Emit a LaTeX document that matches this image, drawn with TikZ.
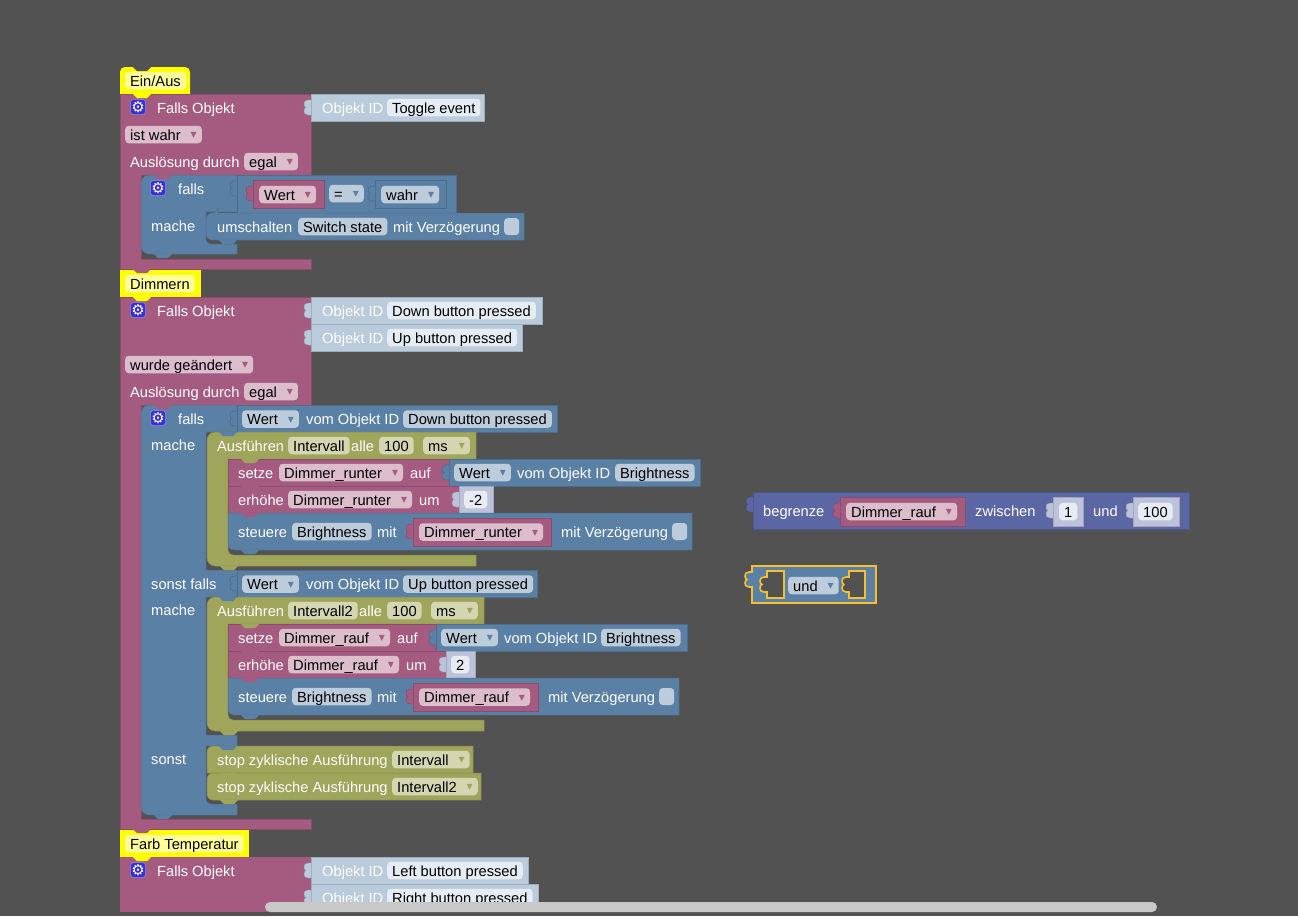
\documentclass[tikz,border=0pt]{standalone}
\usepackage{fontspec}
\usepackage{tikz}
\setmainfont{Liberation Sans}
\newfontfamily\symfont{DejaVu Sans}
\definecolor{bgcol}{HTML}{525252}
\definecolor{rosecol}{HTML}{A55B80}
\definecolor{bluecol}{HTML}{5B80A5}
\definecolor{olivecol}{HTML}{9FA55B}
\definecolor{purplecol}{HTML}{5B67A5}
\definecolor{idcol}{HTML}{BACBDC}
\definecolor{numcol}{HTML}{BDC2DB}
\definecolor{rosepale}{HTML}{DBBDCC}
\definecolor{bluepale}{HTML}{BDCCDB}
\definecolor{olivepale}{HTML}{D3D6B0}
\definecolor{idpale}{HTML}{E6ECF3}
\definecolor{numpale}{HTML}{E9EBF4}
\definecolor{yellowcol}{HTML}{FFFF00}
\definecolor{yellowpale}{HTML}{FFFF99}
\definecolor{hilite}{HTML}{F5C02F}
\definecolor{gearcol}{HTML}{3A2FD0}
\definecolor{barcol}{HTML}{C8C8C8}
\newcommand{\ddmark}[1]{\hspace{10pt}\raisebox{1.5pt}{\symfont\fontsize{12}{12}\selectfont\textcolor{#1}{▾}}\hspace{7.5pt}}
\newcommand{\tabshape}[3]{\path[fill=#3,draw=#3!80!black,line width=.4pt] (#1,#2) -- (#1-3,#2) .. controls (#1-6,#2) and (#1-7,#2+2) .. (#1-7,#2+4) .. controls (#1-7,#2+6) and (#1-6,#2+7) .. (#1-5,#2+7.5) .. controls (#1-6,#2+8) and (#1-7,#2+9) .. (#1-7,#2+11) .. controls (#1-7,#2+13) and (#1-6,#2+15) .. (#1-3,#2+15) -- (#1,#2+15);}
\newcommand{\bumpshape}[3]{\fill[#3] (#1+13,#2) -- (#1+17,#2+4) -- (#1+27,#2+4) -- (#1+31,#2) -- cycle;}
\tikzset{
  txtbase/.style={anchor=west,font=\fontsize{14.67}{16}\selectfont,text height=13pt,text depth=2pt},
  lbl/.style={txtbase,inner sep=0pt,text=white},
  fld/.style={txtbase,rounded corners=3.5pt,inner xsep=5pt,inner ysep=1.25pt,text=black},
  rosefld/.style={fld,fill=rosepale},
  bluefld/.style={fld,fill=bluepale},
  olivefld/.style={fld,fill=olivepale},
  idfld/.style={fld,fill=idpale},
  numfld/.style={fld,fill=numpale},
  yellowfld/.style={fld,fill=yellowpale},
  chk/.style={anchor=west,fill=bluepale,rounded corners=3.5pt,minimum width=15pt,minimum height=17pt,inner sep=0pt},
  gearbtn/.style={fill=gearcol,draw=gearcol!55!white,line width=.5pt,rounded corners=3pt,minimum size=15pt,inner sep=0pt,text=white,font=\symfont\fontsize{15}{15}\selectfont},
  blk/.style={fill=#1,draw=#1!85!black,line width=.5pt},
}
\begin{document}
\begin{tikzpicture}[x=1pt,y=-1pt]
\useasboundingbox (0,0) rectangle (1298,916);
\fill[bgcol] (0,0) rectangle (1298,916);

\fill[yellowcol] (120,94) [rounded corners=5pt] -- (120,67) -- (190,67) [sharp corners] -- (190,94) -- cycle;
\bumpshape{120}{67}{bgcol}
\fill[yellowcol] (120,270) rectangle (201,297);
\fill[yellowcol] (120,830) rectangle (249,857);

\path[blk=rosecol] (120,94) -- (311,94) -- (311,175) -- (141,175) -- (141,259) -- (311,259) -- (311,269) -- (120,269) -- cycle;
\path[blk=rosecol] (120,297) -- (311,297) -- (311,405) -- (141,405) -- (141,819) -- (311,819) -- (311,829) -- (120,829) -- cycle;
\fill[rosecol] (120,857) -- (311,857) -- (311,912) -- (120,912) -- cycle;
\bumpshape{120}{94}{yellowcol}
\bumpshape{120}{297}{yellowcol}
\bumpshape{120}{857}{yellowcol}
\bumpshape{120}{269}{rosecol}
\bumpshape{120}{829}{rosecol}

\path[blk=idcol] (311,94) rectangle (484,121);
\tabshape{311}{100}{idcol}
\path[blk=idcol] (311,297) rectangle (542,324);
\tabshape{311}{303}{idcol}
\path[blk=idcol] (311,324) rectangle (522,351);
\tabshape{311}{330}{idcol}
\path[blk=idcol] (311,857) rectangle (528,884);
\tabshape{311}{863}{idcol}
\path[blk=idcol] (311,884) rectangle (538,902);
\tabshape{311}{890}{idcol}

\path[blk=bluecol] (237,175) -- (237,212) -- (206,212) [rounded corners=5pt] -- (206,244) -- (225,244) [sharp corners] -- (237,244) -- (237,254) [rounded corners=8pt] -- (141,254) -- (141,175) -- (160,175) [sharp corners] -- cycle;
\path[blk=bluecol] (237,175) rectangle (456,213);
\tabshape{237}{181}{bluecol}
\path[blk=rosecol] (253,180) rectangle (324,208);
\tabshape{253}{186}{rosecol}
\path[blk=bluecol] (375,180) rectangle (446,208);
\tabshape{375}{186}{bluecol}
\path[blk=bluecol] (218,213) -- (524,213) -- (524,240) -- (218,240) [rounded corners=6pt] -- (206,240) -- (206,213) -- (218,213) [sharp corners] -- cycle;
\bumpshape{141}{175}{rosecol}
\bumpshape{206}{213}{bluecol}
\bumpshape{206}{240}{bluecol}
\bumpshape{141}{254}{bluecol}

\path[blk=bluecol] (237,405) -- (237,432) -- (206,432) -- (206,570) -- (237,570) -- (237,597) -- (206,597) -- (206,735) -- (237,735) -- (237,746) -- (206,746) [rounded corners=5pt] -- (206,804) -- (225,804) [sharp corners] -- (237,804) -- (237,815) [rounded corners=8pt] -- (141,815) -- (141,405) -- (160,405) [sharp corners] -- cycle;
\path[blk=bluecol] (237,405) rectangle (557,432);
\tabshape{237}{411}{bluecol}
\path[blk=bluecol] (237,570) rectangle (537,597);
\tabshape{237}{576}{bluecol}
\bumpshape{141}{405}{rosecol}
\bumpshape{141}{815}{bluecol}

\path[blk=olivecol] (476,432) -- (476,459) -- (228,459) [rounded corners=5pt] -- (228,555) -- (250,555) [sharp corners] -- (476,555) -- (476,566) [rounded corners=8pt] -- (207,566) -- (207,432) -- (225,432) [sharp corners] -- cycle;
\path[blk=olivecol] (484,597) -- (484,624) -- (228,624) [rounded corners=5pt] -- (228,720) -- (250,720) [sharp corners] -- (484,720) -- (484,731) [rounded corners=8pt] -- (207,731) -- (207,597) -- (225,597) [sharp corners] -- cycle;
\bumpshape{206}{432}{bluecol}
\bumpshape{206}{597}{bluecol}
\bumpshape{207}{566}{olivecol}
\bumpshape{207}{731}{olivecol}

\path[blk=rosecol] (228,459) rectangle (449,486);
\path[blk=bluecol] (449,459) rectangle (700,486);
\tabshape{449}{465}{bluecol}
\path[blk=rosecol] (228,486) rectangle (459,513);
\path[blk=numcol] (459,486) rectangle (493,513);
\tabshape{459}{492}{numcol}
\path[blk=bluecol] (228,513) -- (692,513) -- (692,550) -- (240,550) [rounded corners=6pt] -- (228,550) -- (228,513) [sharp corners] -- cycle;
\path[blk=rosecol] (413,518) rectangle (551,546);
\tabshape{413}{524}{rosecol}
\bumpshape{228}{459}{olivecol}
\bumpshape{228}{486}{rosecol}
\bumpshape{228}{513}{rosecol}
\bumpshape{228}{550}{bluecol}

\path[blk=rosecol] (228,624) rectangle (436,651);
\path[blk=bluecol] (436,624) rectangle (687,651);
\tabshape{436}{630}{bluecol}
\path[blk=rosecol] (228,651) rectangle (446,678);
\path[blk=numcol] (446,651) rectangle (475,678);
\tabshape{446}{657}{numcol}
\path[blk=bluecol] (228,678) -- (679,678) -- (679,715) -- (240,715) [rounded corners=6pt] -- (228,715) -- (228,678) [sharp corners] -- cycle;
\path[blk=rosecol] (413,683) rectangle (538,711);
\tabshape{413}{689}{rosecol}
\bumpshape{228}{624}{olivecol}
\bumpshape{228}{651}{rosecol}
\bumpshape{228}{678}{rosecol}
\bumpshape{228}{715}{bluecol}

\path[blk=olivecol] (473,746) -- (473,773) -- (207,773) [rounded corners=6pt] -- (207,746) -- (225,746) [sharp corners] -- cycle;
\path[blk=olivecol] (481,773) -- (481,800) -- (219,800) [rounded corners=6pt] -- (207,800) -- (207,773) [sharp corners] -- cycle;
\bumpshape{206}{746}{bluecol}
\bumpshape{207}{773}{olivecol}
\bumpshape{207}{800}{olivecol}

\path[blk=purplecol] (753,492) rectangle (1189,529);
\tabshape{753}{497}{purplecol}
\path[blk=rosecol] (840,497) rectangle (965,526);
\tabshape{840}{503}{rosecol}
\path[blk=numcol] (1053,497) rectangle (1083,526);
\tabshape{1053}{503}{numcol}
\path[blk=numcol] (1133,497) rectangle (1179,526);
\tabshape{1133}{503}{numcol}

\path[fill=bluecol,draw=hilite,line width=1.6pt] (752,566) -- (876,566) -- (876,603) -- (752,603) -- (752,587) -- (749,587) .. controls (746,587) and (745,585) .. (745,583) .. controls (745,581) and (746,580) .. (747,579.5) .. controls (746,579) and (745,578) .. (745,576) .. controls (745,574) and (746,572) .. (749,572) -- (752,572) -- cycle;
\path[fill=bgcol,draw=hilite,line width=1.6pt] (784,571) -- (767,571) -- (767,577) -- (764,577) .. controls (761,577) and (760,579) .. (760,581) .. controls (760,583) and (761,584) .. (762,584.5) .. controls (761,585) and (760,586) .. (760,588) .. controls (760,590) and (761,592) .. (764,592) -- (767,592) -- (767,598) -- (784,598) -- cycle;
\path[fill=bgcol,draw=hilite,line width=1.6pt] (865,571) -- (849,571) -- (849,577) -- (846,577) .. controls (843,577) and (842,579) .. (842,581) .. controls (842,583) and (843,584) .. (844,584.5) .. controls (843,585) and (842,586) .. (842,588) .. controls (842,590) and (843,592) .. (846,592) -- (849,592) -- (849,598) -- (865,598) -- cycle;

\path (125,80.5) node[yellowfld] (hatA) {Ein/Aus}
      (125,283.5) node[yellowfld] (hatB) {Dimmern}
      (125,843.5) node[yellowfld] (hatC) {Farb Temperatur}
      (138,107) node[gearbtn] (gearA) {⚙}
      (138,310) node[gearbtn] (gearB) {⚙}
      (138,870) node[gearbtn] (gearC) {⚙}
      (158,188) node[gearbtn] (gearD) {⚙}
      (158,418) node[gearbtn] (gearE) {⚙}
      (157,107.5) node[lbl] (fallsA) {Falls Objekt}
      (157,310.5) node[lbl] (fallsB) {Falls Objekt}
      (157,870.5) node[lbl] (fallsC) {Falls Objekt}
      (322,107.5) node[lbl] (idA) {Objekt ID}
      (387,107.5) node[idfld] (idAval) {Toggle event}
      (322,310.5) node[lbl] (idB) {Objekt ID}
      (387,310.5) node[idfld] (idBval) {Down button pressed}
      (322,337.5) node[lbl] (idC) {Objekt ID}
      (387,337.5) node[idfld] (idCval) {Up button pressed}
      (322,870.5) node[lbl] (idD) {Objekt ID}
      (387,870.5) node[idfld] (idDval) {Left button pressed}
      (322,897.5) node[lbl] (idE) {Objekt ID}
      (387,897.5) node[idfld] (idEval) {Right button pressed}
      (125,134.5) node[rosefld] (condA) {ist wahr\ddmark{rosecol}}
      (125,364.5) node[rosefld] (condB) {wurde geändert\ddmark{rosecol}}
      (130,161.5) node[lbl] (trigA) {Auslösung durch}
      (244,161.5) node[rosefld] (trigAval) {egal\ddmark{rosecol}}
      (130,391.5) node[lbl] (trigB) {Auslösung durch}
      (244,391.5) node[rosefld] (trigBval) {egal\ddmark{rosecol}}
      ;

\path (178,188.5) node[lbl] (ifA) {falls}
      (151,226) node[lbl] (doA) {mache}
      (259,194.5) node[rosefld] (wertA) {Wert\ddmark{rosecol}}
      (329,193.5) node[bluefld] (eqA) {=\ddmark{bluecol}}
      (381,194.5) node[bluefld] (wahrA) {wahr\ddmark{bluecol}}
      (217,227) node[lbl] (toggle) {umschalten}
      (298,226.5) node[bluefld] (toggleval) {Switch state}
      (393,227) node[lbl] (toggledly) {mit Verzögerung}
      (504,226.5) node[chk] (togglechk) {}
      ;

\path (178,418.5) node[lbl] (ifB) {falls}
      (242,419) node[bluefld] (wertB) {Wert\ddmark{bluecol}}
      (306,419) node[lbl] (vomB) {vom Objekt ID}
      (403,419) node[bluefld] (vomBval) {Down button pressed}
      (151,445) node[lbl] (doB) {mache}
      (217,445.5) node[lbl] (runA) {Ausführen}
      (288,445.5) node[olivefld] (runAname) {Intervall}
      (351,445.5) node[lbl] (runAalle) {alle}
      (379,445.5) node[olivefld] (runAval) {100}
      (423,445.5) node[olivefld] (runAunit) {ms\hspace{1pt}\ddmark{olivecol}}
      (238,472.5) node[lbl] (setA) {setze}
      (279,472.5) node[rosefld] (setAvar) {Dimmer\_runter\ddmark{rosecol}}
      (410,472.5) node[lbl] (setAauf) {auf}
      (454,472.5) node[bluefld] (wertC) {Wert\ddmark{bluecol}}
      (517,472.5) node[lbl] (vomC) {vom Objekt ID}
      (615,472.5) node[bluefld] (vomCval) {Brightness}
      (238,499.5) node[lbl] (incA) {erhöhe}
      (288,499.5) node[rosefld] (incAvar) {Dimmer\_runter\ddmark{rosecol}}
      (419,499.5) node[lbl] (incAum) {um}
      (464,499.5) node[numfld] (incAval) {-2}
      (238,531.5) node[lbl] (ctlA) {steuere}
      (292,531.5) node[bluefld] (ctlAname) {Brightness}
      (377,531.5) node[lbl] (ctlAmit) {mit}
      (419,532) node[rosefld] (ctlAvar) {Dimmer\_runter\ddmark{rosecol}}
      (561,531.5) node[lbl] (ctlAdly) {mit Verzögerung}
      (672,531.5) node[chk] (ctlAchk) {}
      ;

\path (151,583.5) node[lbl] (elifA) {sonst falls}
      (242,584) node[bluefld] (wertD) {Wert\ddmark{bluecol}}
      (306,584) node[lbl] (vomD) {vom Objekt ID}
      (403,584) node[bluefld] (vomDval) {Up button pressed}
      (151,610) node[lbl] (doC) {mache}
      (217,610.5) node[lbl] (runB) {Ausführen}
      (288,610.5) node[olivefld] (runBname) {Intervall2}
      (359,610.5) node[lbl] (runBalle) {alle}
      (387,610.5) node[olivefld] (runBval) {100}
      (431,610.5) node[olivefld] (runBunit) {ms\hspace{1pt}\ddmark{olivecol}}
      (238,637.5) node[lbl] (setB) {setze}
      (279,637.5) node[rosefld] (setBvar) {Dimmer\_rauf\ddmark{rosecol}}
      (397,637.5) node[lbl] (setBauf) {auf}
      (441,637.5) node[bluefld] (wertE) {Wert\ddmark{bluecol}}
      (504,637.5) node[lbl] (vomE) {vom Objekt ID}
      (601,637.5) node[bluefld] (vomEval) {Brightness}
      (238,664.5) node[lbl] (incB) {erhöhe}
      (288,664.5) node[rosefld] (incBvar) {Dimmer\_rauf\ddmark{rosecol}}
      (406,664.5) node[lbl] (incBum) {um}
      (451,664.5) node[numfld] (incBval) {2}
      (238,696.5) node[lbl] (ctlB) {steuere}
      (292,696.5) node[bluefld] (ctlBname) {Brightness}
      (377,696.5) node[lbl] (ctlBmit) {mit}
      (419,697) node[rosefld] (ctlBvar) {Dimmer\_rauf\ddmark{rosecol}}
      (548,696.5) node[lbl] (ctlBdly) {mit Verzögerung}
      (659,696.5) node[chk] (ctlBchk) {}
      (151,759) node[lbl] (elseA) {sonst}
      (217,760) node[lbl] (stopA) {stop zyklische Ausführung}
      (392,759.5) node[olivefld] (stopAname) {Intervall\ddmark{olivecol}}
      (217,787) node[lbl] (stopB) {stop zyklische Ausführung}
      (392,786.5) node[olivefld] (stopBname) {Intervall2\ddmark{olivecol}}
      ;

\path (763,510.5) node[lbl] (limit) {begrenze}
      (846,511.5) node[rosefld] (limitvar) {Dimmer\_rauf\ddmark{rosecol}}
      (975,510.5) node[lbl] (limitbtw) {zwischen}
      (1059,511.5) node[numfld] (limitlo) {1}
      (1093,510.5) node[lbl] (limitand) {und}
      (1138,511.5) node[numfld] (limithi) {100}
      (788,585.5) node[bluefld] (andop) {und\ddmark{bluecol}}
      ;

\fill[barcol,rounded corners=5pt] (265,902) rectangle (1157,912);
\end{tikzpicture}
\end{document}
